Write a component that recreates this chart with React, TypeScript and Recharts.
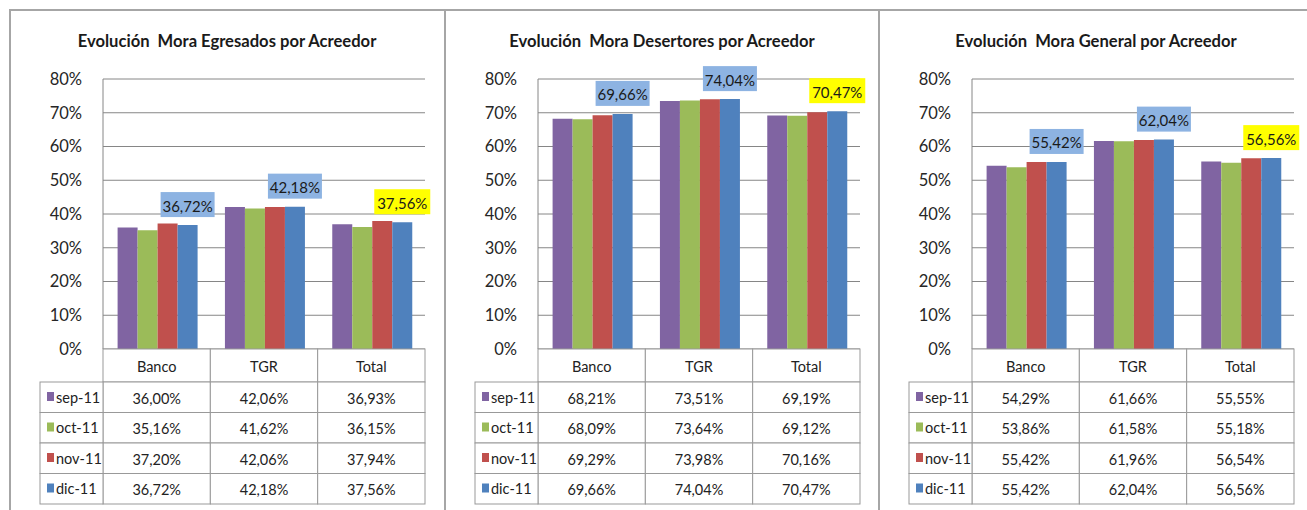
import { BarChart, Bar, XAxis, YAxis, CartesianGrid, LabelList } from "recharts";

const categories = ["Banco", "TGR", "Total"];
const months = ["sep-11", "oct-11", "nov-11", "dic-11"];
const yTicks = [0, 10, 20, 30, 40, 50, 60, 70, 80];

// rows = months, columns = categories
const egresados = [
  [36.0, 42.06, 36.93],
  [35.16, 41.62, 36.15],
  [37.2, 42.06, 37.94],
  [36.72, 42.18, 37.56],
];
const desertores = [
  [68.21, 73.51, 69.19],
  [68.09, 73.64, 69.12],
  [69.29, 73.98, 70.16],
  [69.66, 74.04, 70.47],
];
const general = [
  [54.29, 61.66, 55.55],
  [53.86, 61.58, 55.18],
  [55.42, 61.96, 56.54],
  [55.42, 62.04, 56.56],
];

const titles = [
  "Evolución  Mora Egresados por Acreedor",
  "Evolución  Mora Desertores por Acreedor",
  "Evolución  Mora General por Acreedor",
];

const COLORS = ["#8064A2", "#9BBB59", "#C0504D", "#4F81BD"];
const LABEL_FILL = ["#8DB3E2", "#8DB3E2", "#FFFF00"];
const FONT = "Lato, 'Open Sans', sans-serif";
const TABLE_STROKE = "#999999";

const PANEL_X = [10, 445, 879];
const CHART_W = 425;
const CHART_H = 510;
const Y_AXIS_W = 93;
const MARGIN_R = 10;
const PLOT_TOP = 79;
const PLOT_BOTTOM = 349;
const PLOT_W = CHART_W - Y_AXIS_W - MARGIN_R;
const BAND = PLOT_W / categories.length;
const HEAD_H = 33;
const ROW_H = 30.5;
const LEGEND_W = 63;

const fmt = (v: number) => v.toFixed(2).replace(".", ",") + "%";

function TableColumn(props: any) {
  const { x, y, payload, values } = props;
  const idx = payload.index;
  const left = x - BAND / 2;
  return (
    <g fontFamily={FONT}>
      <rect x={left} y={y} width={BAND} height={HEAD_H} fill="#fff" stroke={TABLE_STROKE} />
      <text x={x} y={y + HEAD_H / 2 + 1} textAnchor="middle" dominantBaseline="central" fontSize={14.5} fill="#222">
        {payload.value}
      </text>
      {months.map((m, s) => {
        const ry = y + HEAD_H + s * ROW_H;
        return (
          <g key={m}>
            <rect x={left} y={ry} width={BAND} height={ROW_H} fill="#fff" stroke={TABLE_STROKE} />
            <text x={x} y={ry + ROW_H / 2 + 1} textAnchor="middle" dominantBaseline="central" fontSize={14.5} fill="#222">
              {fmt(values[s][idx])}
            </text>
            {idx === 0 && (
              <g>
                <rect x={left - LEGEND_W} y={ry} width={LEGEND_W} height={ROW_H} fill="#fff" stroke={TABLE_STROKE} />
                <rect x={left - LEGEND_W + 7} y={ry + 10} width={7} height={9} fill={COLORS[s]} />
                <text x={left - LEGEND_W + 16} y={ry + ROW_H / 2} dominantBaseline="central" fontSize={14.5} fill="#222">
                  {m}
                </text>
              </g>
            )}
          </g>
        );
      })}
    </g>
  );
}

function ValueBox(props: any) {
  const { x, y, width, value, index } = props;
  const cx = x + width / 2;
  const bw = index === 2 ? 56 : 54;
  const bh = 25;
  const top = y - 8 - bh;
  return (
    <g>
      <rect x={cx - bw / 2} y={top} width={bw} height={bh} fill={LABEL_FILL[index]} />
      <text x={cx} y={top + bh / 2 + 1} textAnchor="middle" dominantBaseline="central" fontSize={15} fontFamily={FONT} fill="#1a1a1a">
        {fmt(value)}
      </text>
    </g>
  );
}

function Panel({ values, title, left }: { values: number[][]; title: string; left: number }) {
  const data = categories.map((c, i) => ({
    cat: c,
    m0: values[0][i],
    m1: values[1][i],
    m2: values[2][i],
    m3: values[3][i],
  }));
  return (
    <div style={{ position: "absolute", left, top: 0, width: CHART_W, height: CHART_H }}>
      <div
        style={{
          position: "absolute",
          left: 0,
          top: 30,
          width: 434,
          textAlign: "center",
          fontFamily: FONT,
          fontWeight: 700,
          fontSize: 16.6,
          lineHeight: "22px",
          color: "#1a1a1a",
          whiteSpace: "pre",
        }}
      >
        {title}
      </div>
      <div style={{ position: "absolute", left: 0, top: 0 }}>
        <BarChart
          width={CHART_W}
          height={CHART_H}
          data={data}
          margin={{ top: PLOT_TOP, right: MARGIN_R, left: 0, bottom: 0 }}
          barCategoryGap="13.6%"
          barGap={0}
        >
          <CartesianGrid vertical={false} stroke="#868686" />
          <YAxis
            width={Y_AXIS_W}
            domain={[0, 80]}
            ticks={yTicks}
            tickFormatter={(v) => `${v}%`}
            tickLine={false}
            tickMargin={15}
            axisLine={{ stroke: "#868686" }}
            tick={{ fontSize: 16.5, fill: "#262626", fontFamily: FONT }}
          />
          <XAxis
            dataKey="cat"
            height={CHART_H - PLOT_BOTTOM}
            axisLine={false}
            tickLine={false}
            tickSize={0}
            tickMargin={0}
            interval={0}
            tick={(p: any) => <TableColumn {...p} values={values} />}
          />
          {months.map((m, s) => (
            <Bar key={m} dataKey={`m${s}`} name={m} fill={COLORS[s]} isAnimationActive={false}>
              {s === 3 && <LabelList dataKey="m3" content={<ValueBox />} />}
            </Bar>
          ))}
        </BarChart>
      </div>
    </div>
  );
}

export default function App() {
  const sets = [egresados, desertores, general];
  return (
    <div style={{ position: "absolute", left: 0, top: 0, width: 1307, height: 510, background: "#fff", overflow: "hidden" }}>
      <div style={{ position: "absolute", left: 10, top: 9, width: 1297, height: 2, background: "#A6A6A6" }} />
      {PANEL_X.map((x) => (
        <div key={x} style={{ position: "absolute", left: x - 1, top: 9, width: 2, height: 501, background: "#A6A6A6" }} />
      ))}
      {sets.map((v, i) => (
        <Panel key={i} values={v} title={titles[i]} left={PANEL_X[i]} />
      ))}
    </div>
  );
}
